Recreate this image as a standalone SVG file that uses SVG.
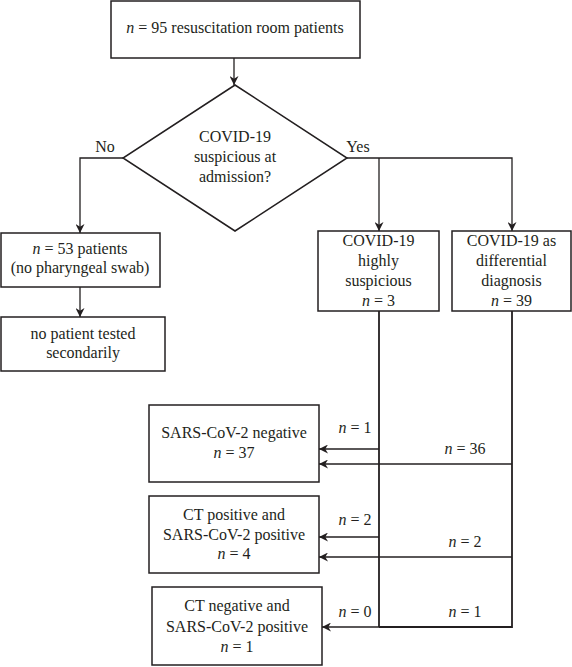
<svg xmlns="http://www.w3.org/2000/svg" width="572" height="667" viewBox="0 0 572 667" font-family="'Liberation Serif', 'DejaVu Serif', serif">
<style>
.box{fill:#fff;stroke:#231f20;stroke-width:1.5}
.ln{fill:none;stroke:#231f20;stroke-width:1.3}
.vl{fill:none;stroke:#231f20;stroke-width:1.8}
text{font-family:'Liberation Serif','DejaVu Serif',serif;font-size:16px;fill:#231f20;text-anchor:middle}
.it{font-style:italic}
</style>
<defs>
<marker id="ah" viewBox="0 0 10 10" refX="10" refY="5" markerWidth="9" markerHeight="9" markerUnits="userSpaceOnUse" orient="auto">
<path d="M0,0 L10,5 L0,10 L3,5 Z" fill="#231f20"/>
</marker>
</defs>
<rect width="572" height="667" fill="#fff"/>
<g id="connectors">
<line class="ln" x1="234" y1="58" x2="234" y2="85" marker-end="url(#ah)"/>
<polyline class="ln" points="123,158 80,158 80,233" marker-end="url(#ah)"/>
<polyline class="ln" points="347,158 512,158 512,231" marker-end="url(#ah)"/>
<line class="ln" x1="379" y1="158" x2="379" y2="231" marker-end="url(#ah)"/>
<line class="ln" x1="80" y1="287" x2="80" y2="317" marker-end="url(#ah)"/>
<line class="vl" x1="379" y1="311" x2="379" y2="627"/>
<polyline class="vl" points="512,311 512,627 379,627"/>
<line class="ln" x1="379" y1="449" x2="319" y2="449" marker-end="url(#ah)"/>
<line class="ln" x1="512" y1="464" x2="319" y2="464" marker-end="url(#ah)"/>
<line class="ln" x1="379" y1="537" x2="319" y2="537" marker-end="url(#ah)"/>
<line class="ln" x1="512" y1="557" x2="319" y2="557" marker-end="url(#ah)"/>
<line class="ln" x1="379" y1="627" x2="322" y2="627" marker-end="url(#ah)"/>
<text x="105" y="152">No</text>
<text x="358" y="152">Yes</text>
<text x="355" y="433"><tspan class="it">n</tspan> = 1</text>
<text x="465" y="454"><tspan class="it">n</tspan> = 36</text>
<text x="355" y="525"><tspan class="it">n</tspan> = 2</text>
<text x="465" y="547"><tspan class="it">n</tspan> = 2</text>
<text x="355" y="617"><tspan class="it">n</tspan> = 0</text>
<text x="465" y="617"><tspan class="it">n</tspan> = 1</text>
</g>
<g id="start">
<rect class="box" x="111" y="1" width="249" height="57"/>
<text x="235" y="33"><tspan class="it">n</tspan> = 95 resuscitation room patients</text>
</g>
<g id="decision">
<polygon class="box" points="235,85 347,158 235,231 123,158"/>
<text x="235" y="142">COVID-19</text>
<text x="235" y="162">suspicious at</text>
<text x="235" y="182">admission?</text>
</g>
<g id="no-swab">
<rect class="box" x="1" y="233" width="159" height="54"/>
<text x="80" y="254"><tspan class="it">n</tspan> = 53 patients</text>
<text x="80" y="273">(no pharyngeal swab)</text>
</g>
<g id="not-tested">
<rect class="box" x="1" y="317" width="164" height="54"/>
<text x="83" y="339">no patient tested</text>
<text x="83" y="358">secondarily</text>
</g>
<g id="highly">
<rect class="box" x="318" y="231" width="121" height="80"/>
<text x="378.5" y="246">COVID-19</text>
<text x="378.5" y="266">highly</text>
<text x="378.5" y="286">suspicious</text>
<text x="378.5" y="306"><tspan class="it">n</tspan> = 3</text>
</g>
<g id="differential">
<rect class="box" x="452" y="231" width="119" height="80"/>
<text x="511.5" y="246">COVID-19 as</text>
<text x="511.5" y="266">differential</text>
<text x="511.5" y="286">diagnosis</text>
<text x="511.5" y="306"><tspan class="it">n</tspan> = 39</text>
</g>
<g id="negative">
<rect class="box" x="149" y="405" width="170" height="77"/>
<text x="234" y="438">SARS-CoV-2 negative</text>
<text x="234" y="458"><tspan class="it">n</tspan> = 37</text>
</g>
<g id="ct-positive">
<rect class="box" x="149" y="496" width="170" height="77"/>
<text x="234" y="520">CT positive and</text>
<text x="234" y="540">SARS-CoV-2 positive</text>
<text x="234" y="559"><tspan class="it">n</tspan> = 4</text>
</g>
<g id="ct-negative">
<rect class="box" x="152" y="587" width="170" height="78"/>
<text x="237" y="611">CT negative and</text>
<text x="237" y="632">SARS-CoV-2 positive</text>
<text x="237" y="652"><tspan class="it">n</tspan> = 1</text>
</g>
</svg>
